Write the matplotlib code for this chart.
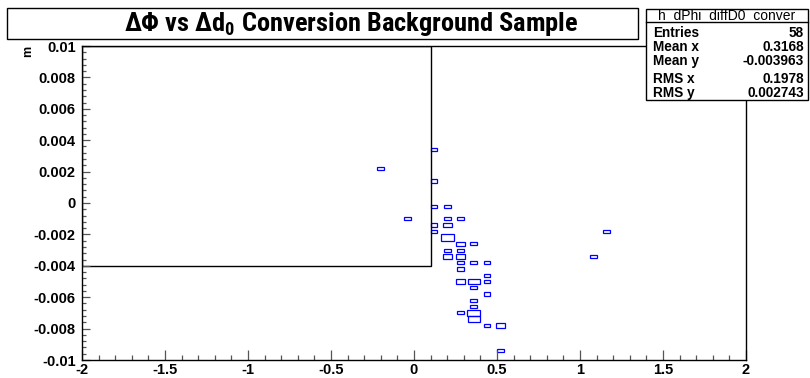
import numpy as np
import matplotlib
matplotlib.use('Agg')
import matplotlib.pyplot as plt
from matplotlib.patches import Rectangle
from matplotlib import font_manager

# ---------------- data (bin centres and bin contents of the TH2) ----------------
x_bins = [0.12, -0.20, 0.12, 0.12, 0.20, -0.04, 0.20, 0.28, 0.12, 0.20,
          0.12, 0.20, 0.28, 0.36, 0.20, 0.28, 0.20, 0.28, 0.28, 0.36,
          0.44, 0.28, 0.44, 0.28, 0.36, 0.44, 0.36, 0.44, 0.36, 0.36,
          0.36, 0.28, 0.36, 0.44, 0.52, 0.52, 1.16, 1.08]
y_bins = [0.0034, 0.0022, 0.0014, -0.0002, -0.0002, -0.0010, -0.0010, -0.0010, -0.0014, -0.0014,
          -0.0018, -0.0022, -0.0026, -0.0026, -0.0030, -0.0030, -0.0034, -0.0034, -0.0038, -0.0038,
          -0.0038, -0.0042, -0.0046, -0.0050, -0.0050, -0.0050, -0.0054, -0.0058, -0.0062, -0.0066,
          -0.0070, -0.0070, -0.0074, -0.0078, -0.0078, -0.0094, -0.0018, -0.0034]
counts = [1, 1, 1, 1, 1, 1, 1, 1, 1, 2,
          1, 4, 2, 1, 1, 1, 2, 2, 1, 1,
          1, 1, 1, 2, 3, 1, 1, 1, 1, 1,
          4, 1, 3, 1, 2, 1, 1, 1]
bin_dx = 0.08
bin_dy = 0.0004

x_ticks = [-2, -1.5, -1, -0.5, 0, 0.5, 1, 1.5, 2]
x_ticklabels = ['-2', '-1.5', '-1', '-0.5', '0', '0.5', '1', '1.5', '2']
y_ticks = [0.01, 0.008, 0.006, 0.004, 0.002, 0, -0.002, -0.004, -0.006, -0.008, -0.01]
y_ticklabels = ['0.01', '0.008', '0.006', '0.004', '0.002', '0', '-0.002', '-0.004',
                '-0.006', '-0.008', '-0.01']

title = 'ΔΦ vs Δd$_{0}$ Conversion Background Sample'
y_title = 'm'
stats_name = 'h_dPhi_diffD0_conver'
stats_labels = ['Entries', 'Mean x', 'Mean y', 'RMS x', 'RMS y']
stats_values = ['58', '0.3168', '-0.003963', '0.1978', '0.002743']

# ---------------- fonts ----------------
names = {f.name for f in font_manager.fontManager.ttflist}
narrow = 'Liberation Sans'
for cand in ['Liberation Sans Narrow', 'Roboto Condensed', 'Roboto', 'Liberation Sans']:
    if cand in names:
        narrow = cand
        break
sans = 'Liberation Sans'
plt.rcParams['mathtext.default'] = 'regular'
plt.rcParams['axes.unicode_minus'] = False

W, H = 810, 378
fig = plt.figure(figsize=(W / 100, H / 100), dpi=100)
fig.patch.set_facecolor('white')


def fx(px):
    return px / W


def fy(py):
    return 1 - py / H


L, R, T, B = 82, 746, 46, 360
ax = fig.add_axes([fx(L), fy(B), (R - L) / W, (B - T) / H])
ax.set_xlim(-2, 2)
ax.set_ylim(-0.01, 0.01)
for s in ax.spines.values():
    s.set_linewidth(1.0)
    s.set_color('black')

ax.set_xticks(x_ticks)
ax.set_xticklabels(x_ticklabels)
ax.set_yticks(y_ticks)
ax.set_yticklabels(y_ticklabels)
ax.set_xticks(np.arange(-2, 2.0001, 0.1), minor=True)
ax.set_yticks(np.arange(-0.01, 0.01001, 0.0004), minor=True)
ax.tick_params(axis='x', which='major', direction='in', length=7.5, width=0.9, color='#555555',
               pad=2.5, top=False)
ax.tick_params(axis='x', which='minor', direction='in', length=3.8, width=0.9, color='#555555',
               top=False)
ax.tick_params(axis='y', which='major', direction='in', length=6, width=0.9, color='#555555',
               pad=4.5, right=False)
ax.tick_params(axis='y', which='minor', direction='in', length=3, width=0.9, color='#555555',
               right=False)
for lab in ax.get_xticklabels() + ax.get_yticklabels():
    lab.set_fontfamily(sans)
    lab.set_fontweight('bold')
    lab.set_fontsize(10.5)

# boxes
cmax = max(counts)
for xc, yc, c in zip(x_bins, y_bins, counts):
    f = np.sqrt(c / cmax)
    w, h = bin_dx * f, bin_dy * f
    ax.add_patch(Rectangle((xc - w / 2, yc - h / 2), w, h, fill=False,
                           edgecolor='#0000ff', linewidth=0.9))

# leftover pad frame inside the plot
ax.add_patch(Rectangle((-2, -0.004), 2.1, 0.014, fill=False, edgecolor='black', linewidth=1.0))

# y title
fig.text(fx(28.5), fy(46), y_title, rotation=90, ha='center', va='top',
         fontfamily=sans, fontweight='bold', fontsize=9)

# title box
fig.add_artist(Rectangle((fx(7), fy(39)), (638 - 7) / W, (39 - 8) / H, transform=fig.transFigure,
                         facecolor='white', edgecolor='black', linewidth=1.0, zorder=5))
t = fig.text(fx(351), fy(23.5), title, ha='center', va='center', fontfamily=narrow,
             fontweight='bold', fontsize=20, zorder=6)
renderer = fig.canvas.get_renderer()
bb = t.get_window_extent(renderer)
t.set_fontsize(20 * 453 / bb.width)

# stats box
fig.add_artist(Rectangle((fx(646), fy(100)), (808 - 646) / W, (100 - 9) / H, transform=fig.transFigure,
                         facecolor='white', edgecolor='black', linewidth=1.0, zorder=5))
fig.add_artist(plt.Line2D([fx(646), fx(808)], [fy(22), fy(22)], transform=fig.transFigure,
                          color='black', linewidth=1.0, zorder=6))
h = fig.text(fx(727), fy(15.5), stats_name, ha='center', va='center', fontfamily=sans,
             fontsize=10, zorder=6)
bb = h.get_window_extent(renderer)
h.set_fontsize(10 * 137 / bb.width)
row_y = [33, 47, 61, 79, 93]
for yy, lab, val in zip(row_y, stats_labels, stats_values):
    fig.text(fx(653), fy(yy), lab, ha='left', va='center', fontfamily=sans,
             fontweight='bold', fontsize=9.8, zorder=6)
    fig.text(fx(804), fy(yy), val, ha='right', va='center', fontfamily=sans,
             fontweight='bold', fontsize=9.8, zorder=6)

fig.savefig('out.png', dpi=100)
